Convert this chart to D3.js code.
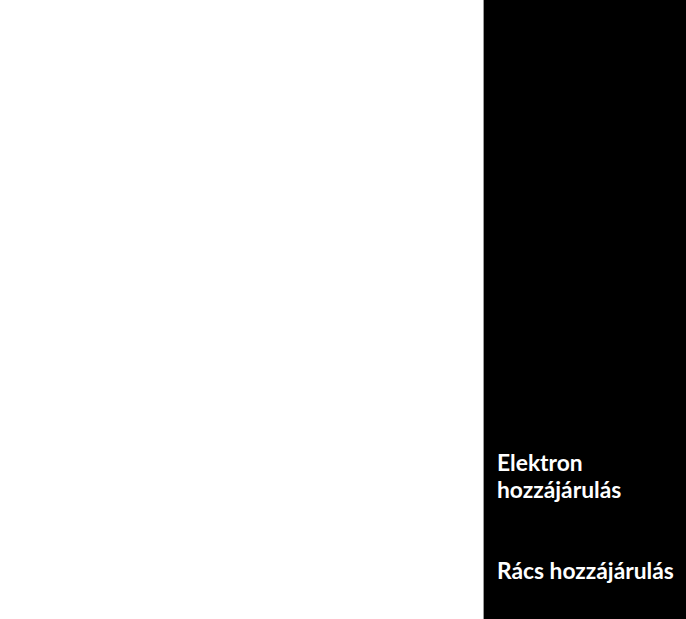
<!DOCTYPE html>
<html>
<head>
<meta charset="utf-8">
<script src="https://cdn.jsdelivr.net/npm/d3@7"></script>
<style>
  html, body { margin: 0; padding: 0; background: #fff; }
  svg { display: block; }
</style>
</head>
<body>
<svg id="chart" width="686" height="619"></svg>
<script>
// Legend series (no data marks are visible in the reference plot area)
const seriesNames = ["Elektron hozzájárulás", "Rács hozzájárulás"];
const seriesLines = [["Elektron", "hozzájárulás"], ["Rács hozzájárulás"]];
const seriesColors = ["#ffffff", "#ffffff"];

const W = 686, H = 619;
const svg = d3.select("#chart");

// plot area (blank, white)
svg.append("rect").attr("x", 0).attr("y", 0).attr("width", W).attr("height", H).attr("fill", "#ffffff");

// legend panel
const legendX = 484;
svg.append("rect")
  .attr("x", legendX).attr("y", 0)
  .attr("width", W - legendX).attr("height", H)
  .attr("fill", "#000000");
svg.append("line")
  .attr("x1", legendX - 0.5).attr("x2", legendX - 0.5)
  .attr("y1", 0).attr("y2", H)
  .attr("stroke", "#9a9a9a").attr("stroke-width", 1);

const yLegend = d3.scalePoint()
  .domain(seriesNames)
  .range([471, 579]);

const lineH = 27;
const entries = svg.append("g").attr("class", "legend")
  .selectAll("text")
  .data(seriesNames)
  .join("text")
  .attr("x", 497)
  .attr("y", d => yLegend(d))
  .attr("fill", (d, i) => seriesColors[i])
  .attr("font-family", "Lato, 'Open Sans', sans-serif")
  .attr("font-weight", "bold")
  .attr("font-size", 22.8);

entries.each(function(d, i) {
  d3.select(this).selectAll("tspan")
    .data(seriesLines[i])
    .join("tspan")
    .attr("x", 497)
    .attr("dy", (t, j) => j === 0 ? 0 : lineH)
    .text(t => t);
});
</script>
</body>
</html>
